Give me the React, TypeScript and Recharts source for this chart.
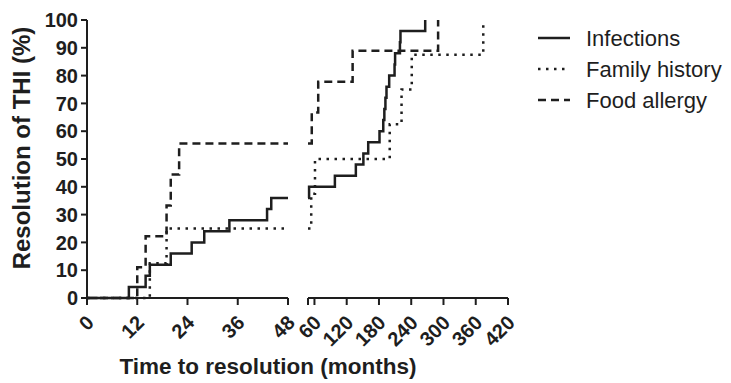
import { Line, LineChart, XAxis, YAxis } from "recharts";

// time to resolution (months) and cumulative % resolved, per group
const infectionsMonths = [0, 10, 14, 15, 20, 25, 28, 34, 43, 44, 50, 98, 137, 151, 160, 181, 188, 190, 192, 194, 199, 209, 210, 219, 220, 266];
const infectionsPct = [0, 4, 8, 12, 16, 20, 24, 28, 32, 36, 40, 44, 48, 52, 56, 60, 64, 68, 72, 76, 80, 84, 88, 92, 96, 100];
const familyMonths = [0, 15, 19, 54, 61, 200, 222, 241, 374];
const familyPct = [0, 12.5, 25, 37.5, 50, 62.5, 75, 87.5, 100];
const foodMonths = [0, 12, 14, 19, 20, 22, 55, 67, 131, 290];
const foodPct = [0, 11.1, 22.2, 33.3, 44.4, 55.6, 66.7, 77.8, 88.9, 100];

const yTicks = [0, 10, 20, 30, 40, 50, 60, 70, 80, 90, 100];
const leftTicks = [0, 12, 24, 36, 48];
const rightTicks = [48, 60, 120, 180, 240, 300, 360, 420];
const BREAK = 48;

const INK = "#1e1e1e";
const FONT = "'Liberation Sans', Arial, Helvetica, sans-serif";

type Pt = { t: number; v: number };

function split(months: number[], pct: number[]) {
  const pts: Pt[] = months.map((t, i) => ({ t, v: pct[i] }));
  const before = pts.filter((p) => p.t <= BREAK);
  const carry = before[before.length - 1].v;
  return {
    left: [...before, { t: BREAK, v: carry }],
    right: [{ t: BREAK, v: carry }, ...pts.filter((p) => p.t > BREAK)],
  };
}

const series = [
  { name: "Infections", dash: undefined, ...split(infectionsMonths, infectionsPct) },
  { name: "Family history", dash: "2.5 5.5", ...split(familyMonths, familyPct) },
  { name: "Food allergy", dash: "8 5", ...split(foodMonths, foodPct) },
];

function RotTick(props: any) {
  const { x, y, payload, skip } = props;
  if (payload.value === skip) return null;
  return (
    <text
      transform={`translate(${x + 8},${y + 17}) rotate(-45)`}
      textAnchor="end"
      fontFamily={FONT}
      fontWeight={700}
      fontSize={20}
      fill={INK}
    >
      {payload.value}
    </text>
  );
}

const axisProps = {
  stroke: INK,
  strokeWidth: 2,
  tickSize: 7,
  tickMargin: 2,
  interval: 0 as const,
};

export default function App() {
  return (
    <div style={{ position: "fixed", left: 0, top: 0, width: 731, height: 383, background: "#fff" }}>
      <div style={{ position: "absolute", left: 0, top: 0 }}>
        <LineChart width={300} height={383} margin={{ top: 20, right: 12, bottom: 25, left: 0 }}>
          <XAxis
            type="number"
            dataKey="t"
            domain={[0, 48]}
            ticks={leftTicks}
            height={60}
            {...axisProps}
            tick={(p: any) => <RotTick {...p} />}
          />
          <YAxis
            type="number"
            domain={[0, 100]}
            ticks={yTicks}
            interval={0}
            width={87}
            stroke={INK}
            strokeWidth={2}
            tickSize={6}
            tickMargin={3}
            tick={{ fill: INK, fontFamily: FONT, fontWeight: 700, fontSize: 20 }}
          />
          {series.map((s) => (
            <Line
              key={s.name}
              data={s.left}
              dataKey="v"
              type="stepAfter"
              stroke={INK}
              strokeWidth={2.5}
              strokeDasharray={s.dash}
              dot={false}
              isAnimationActive={false}
            />
          ))}
        </LineChart>
      </div>
      <div style={{ position: "absolute", left: 290, top: 0 }}>
        <LineChart width={230} height={383} margin={{ top: 20, right: 12, bottom: 25, left: 18 }}>
          <XAxis
            type="number"
            dataKey="t"
            domain={[48, 420]}
            ticks={rightTicks}
            height={60}
            {...axisProps}
            tick={(p: any) => <RotTick {...p} skip={48} />}
          />
          <YAxis type="number" domain={[0, 100]} hide />
          {series.map((s) => (
            <Line
              key={s.name}
              data={s.right}
              dataKey="v"
              type="stepAfter"
              stroke={INK}
              strokeWidth={2.5}
              strokeDasharray={s.dash}
              dot={false}
              isAnimationActive={false}
            />
          ))}
        </LineChart>
      </div>
      <svg
        width={731}
        height={383}
        style={{ position: "absolute", left: 0, top: 0, pointerEvents: "none" }}
        fontFamily={FONT}
        fill={INK}
      >
        <text
          transform="translate(30,148) rotate(-90)"
          textAnchor="middle"
          fontWeight={700}
          fontSize={24}
        >
          Resolution of THI (%)
        </text>
        <text x={268} y={374} textAnchor="middle" fontWeight={700} fontSize={22.5}>
          Time to resolution (months)
        </text>
        {series.map((s, i) => (
          <g key={s.name}>
            <line
              x1={538}
              x2={570}
              y1={38 + i * 31}
              y2={38 + i * 31}
              stroke={INK}
              strokeWidth={2.5}
              strokeDasharray={s.dash}
            />
            <text x={586} y={38 + i * 31} dy="0.36em" fontSize={22}>
              {s.name}
            </text>
          </g>
        ))}
      </svg>
    </div>
  );
}
